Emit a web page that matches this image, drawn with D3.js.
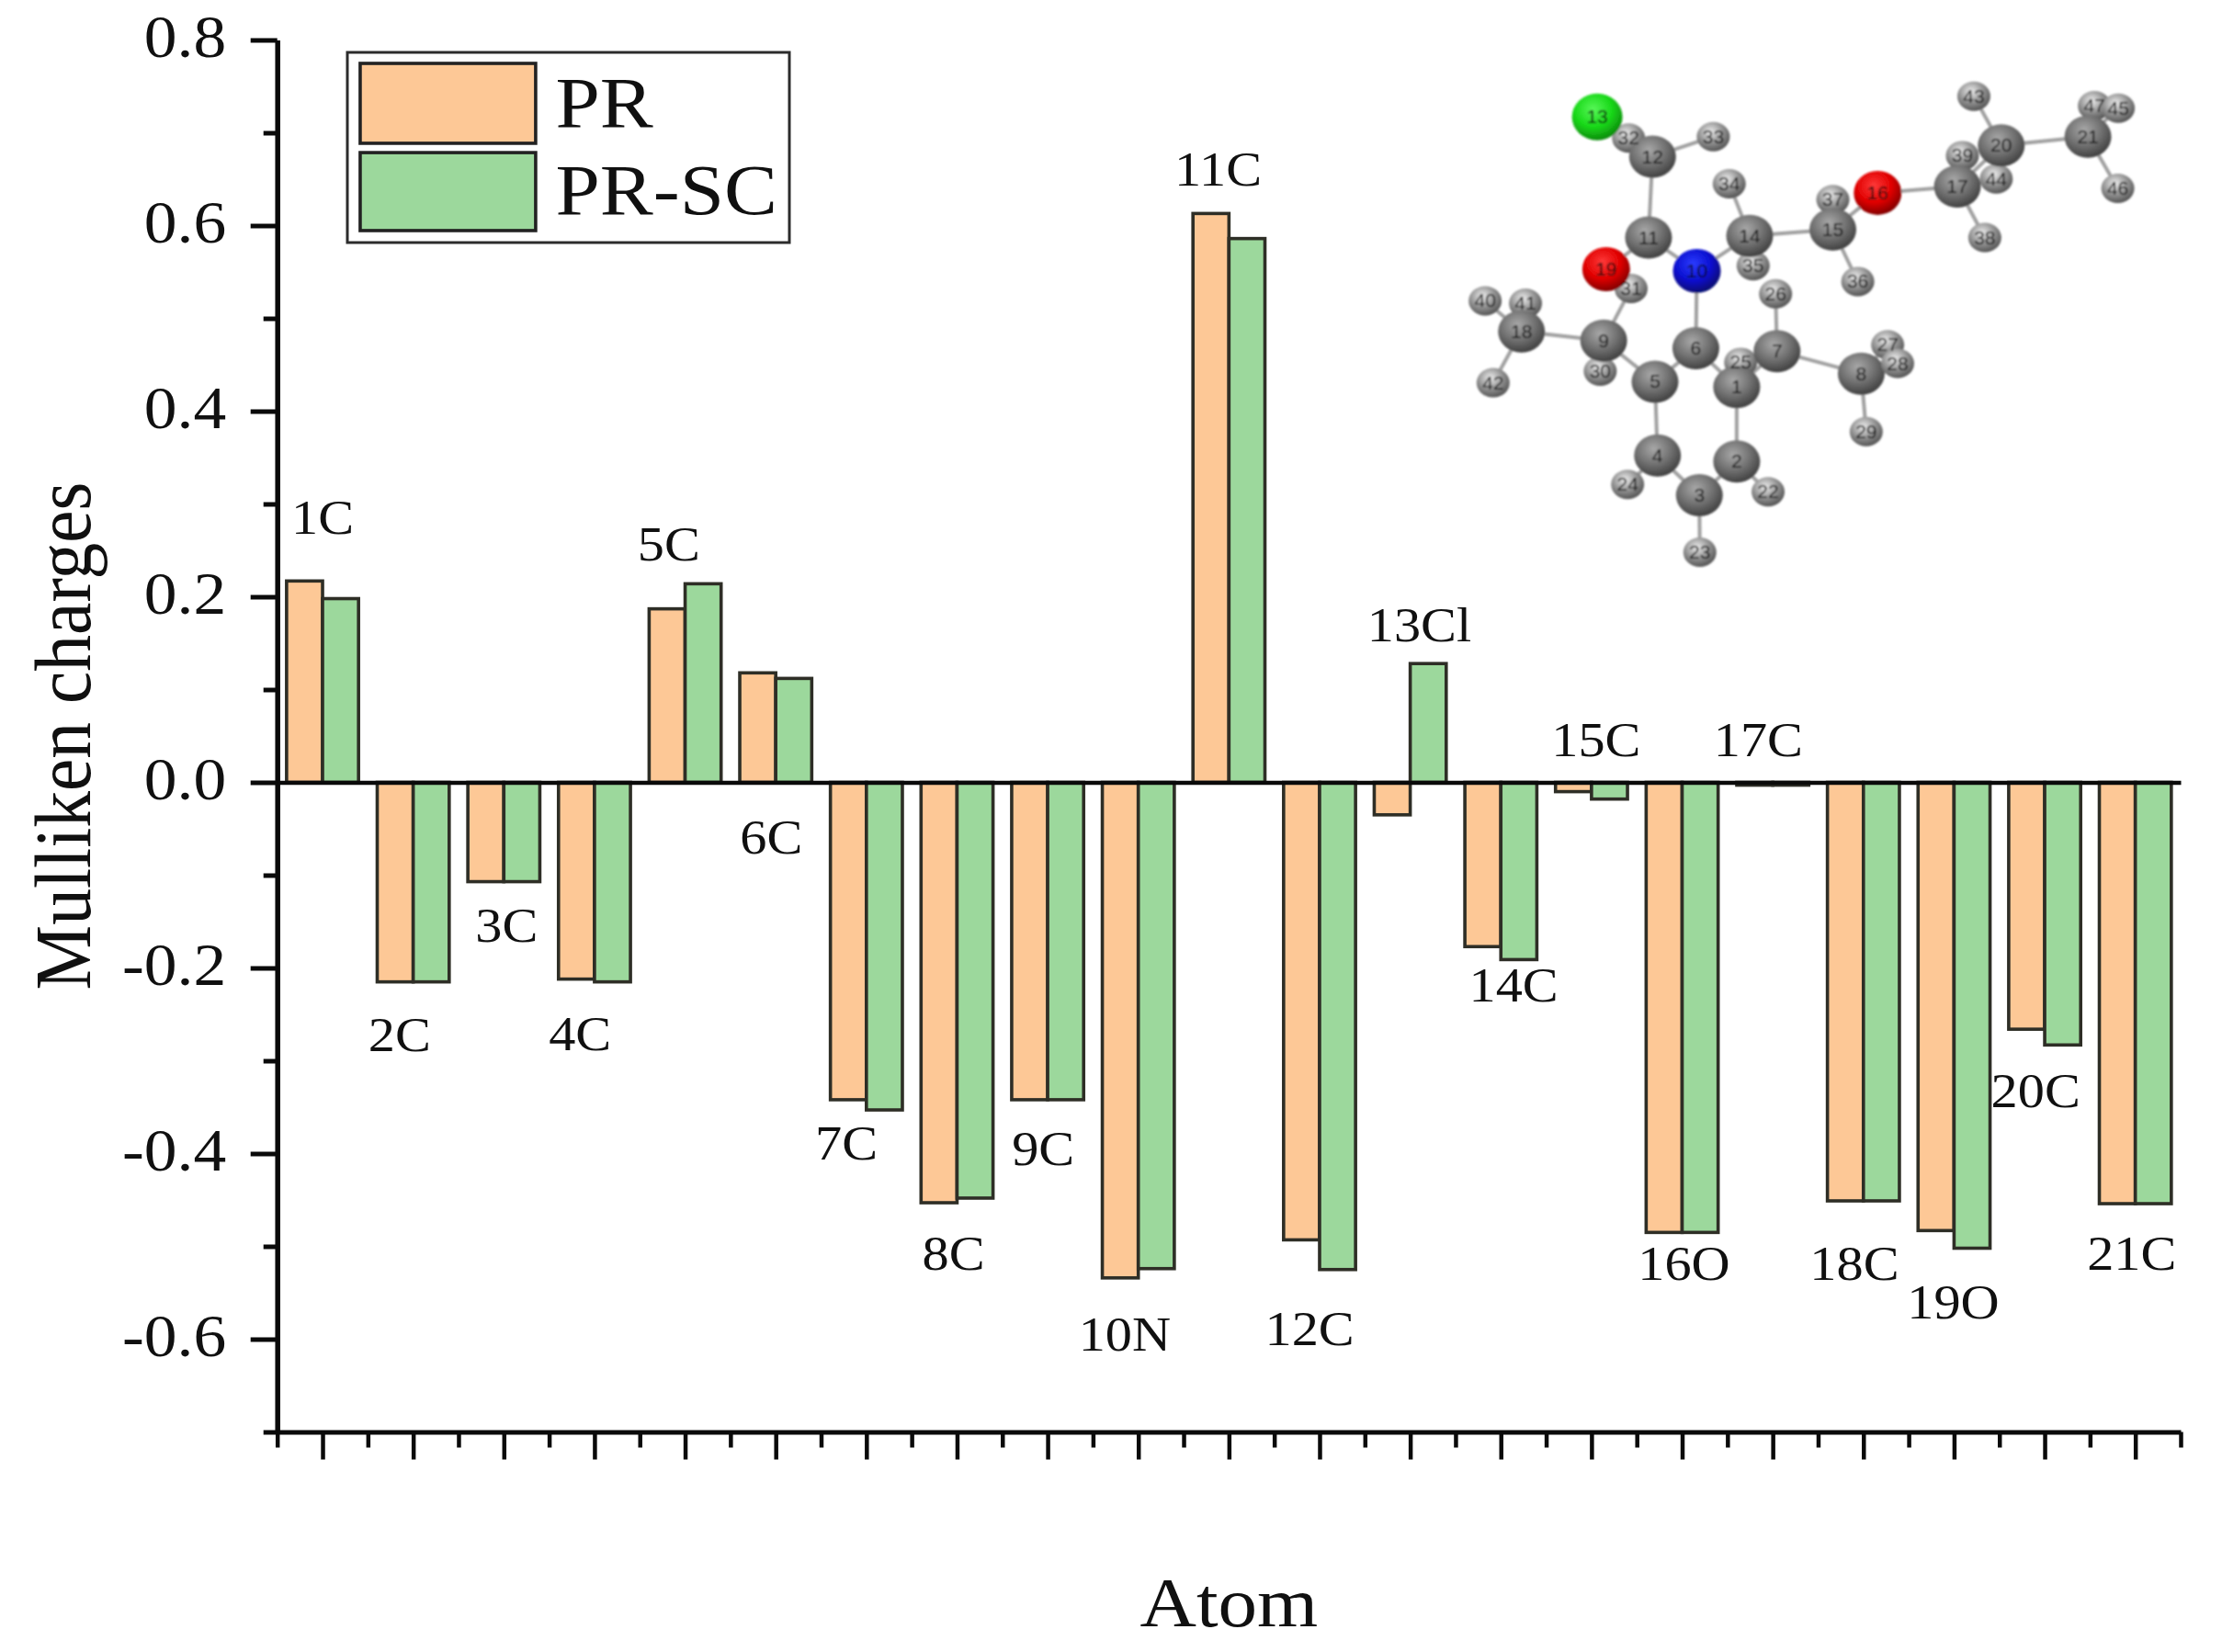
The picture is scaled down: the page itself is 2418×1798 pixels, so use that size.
<!DOCTYPE html>
<html>
<head>
<meta charset="utf-8">
<script src="https://cdn.jsdelivr.net/npm/d3@7"></script>
<style>
html,body{margin:0;padding:0;background:#fff;}
svg{display:block;filter:blur(0.7px);}
text{font-family:"Liberation Serif",serif;fill:#101010;}
</style>
</head>
<body>
<svg id="chart" width="2418" height="1798"></svg>
<script>
// ---------- chart data ----------
const atoms = ["1C","2C","3C","4C","5C","6C","7C","8C","9C","10N","11C","12C","13Cl","14C","15C","16O","17C","18C","19O","20C","21C"];
const chargesPR = [0.217,-0.215,-0.107,-0.212,0.187,0.118,-0.342,-0.453,-0.342,-0.534,0.613,-0.493,-0.035,-0.177,-0.010,-0.485,-0.003,-0.451,-0.483,-0.266,-0.454];
const chargesPRSC = [0.198,-0.215,-0.107,-0.215,0.214,0.112,-0.353,-0.448,-0.342,-0.524,0.586,-0.525,0.128,-0.191,-0.018,-0.485,-0.003,-0.451,-0.502,-0.283,-0.454];
// atom labels sit by hand next to the bars, given in axis units
const labelAtomPos = [1.00,1.85,3.03,3.84,4.82,5.95,6.78,7.96,8.95,9.85,10.88,11.89,13.10,14.14,15.05,16.02,16.84,17.90,18.99,19.90,20.96];
const labelCharge = [0.268,-0.290,-0.172,-0.289,0.239,-0.077,-0.406,-0.525,-0.412,-0.612,0.643,-0.606,0.152,-0.236,0.028,-0.536,0.028,-0.536,-0.578,-0.350,-0.525];
const yMajor = [-0.6,-0.4,-0.2,0,0.2,0.4,0.6,0.8];
const yMinor = [-0.7,-0.5,-0.3,-0.1,0.1,0.3,0.5,0.7];
const seriesNames = ["PR","PR-SC"];
const seriesColors = ["#fdc896","#9cd89c"];
const xTitle = "Atom";
const yTitle = "Mulliken charges";

// ---------- molecule inset data (picture units) ----------
const molId = [27,25,47,39,44,37,35,30,41,40,32,31,13,12,33,34,11,14,15,16,17,20,43,21,45,46,38,36,19,10,26,42,18,9,6,7,5,1,8,28,29,4,2,24,22,3,23];
const molEl = ["H","H","H","H","H","H","H","H","H","H","H","H","Cl","C","H","H","C","C","C","O","C","C","H","C","H","H","H","H","O","N","H","H","C","C","C","C","C","C","C","H","H","C","C","H","H","C","H"];
const molX = [930,635,1345,1080,1148,820,660,353,203,122,410,415,347,458,580,612,450,653,820,910,1070,1158,1103,1332,1393,1392,1125,870,365,547,705,138,195,360,545,708,463,627,877,950,887,468,627,408,690,552,553];
const molY = [850,900,170,312,378,437,625,925,732,725,262,690,202,315,258,392,545,540,522,418,400,283,143,258,177,405,545,670,635,640,705,958,812,838,860,868,955,970,932,903,1097,1165,1182,1247,1268,1278,1440];
const molBondA = [13,32,33,12,11,11,10,14,14,14,15,15,15,16,17,17,17,20,20,20,21,21,21,10,6,6,5,9,9,9,18,18,18,1,7,7,7,8,8,8,1,2,3,4,2,3,4];
const molBondB = [12,12,12,11,19,10,14,34,35,15,37,36,16,17,39,38,20,43,44,21,47,45,46,6,5,1,9,31,30,18,40,41,42,7,26,25,8,27,28,29,2,3,4,5,22,23,24];

// ---------- scales ----------
const svg = d3.select("#chart");
const x = d3.scaleLinear().domain([0.5,21.5]).range([301.7,2373]);
const y = d3.scaleLinear().domain([-0.7,0.8]).range([1558.5,43.5]);
const barFrac = 0.397;

// ---------- bars ----------
const series = [chargesPR, chargesPRSC];
series.forEach((vals,s)=>{
  svg.append("g").selectAll("rect").data(vals).join("rect")
    .attr("x",(d,i)=> x(i+1 + (s===0?-barFrac:0)))
    .attr("width", x(1+barFrac)-x(1))
    .attr("y", d=> y(Math.max(0,d)))
    .attr("height", d=> Math.abs(y(d)-y(0)))
    .attr("fill", seriesColors[s])
    .attr("stroke","#2e2e26")
    .attr("stroke-width",3.6);
});

// ---------- axes ----------
const axisInk = g=>{ g.selectAll("path,line").attr("stroke","#0a0a0a"); };
// bottom axis
const gx = svg.append("g").attr("transform",`translate(0,${y(-0.7)})`);
gx.call(d3.axisBottom(x).tickValues(d3.range(1,22)).tickSize(30).tickSizeOuter(0).tickFormat(""));
gx.call(axisInk); gx.selectAll("line").attr("stroke-width",4.5); gx.select("path").attr("stroke-width",5);
const gxm = svg.append("g").attr("transform",`translate(0,${y(-0.7)})`);
gxm.call(d3.axisBottom(x).tickValues(d3.range(0.5,22,1)).tickSize(17).tickSizeOuter(0).tickFormat(""));
gxm.call(axisInk); gxm.select("path").remove(); gxm.selectAll("line").attr("stroke-width",4.5);
// left axis
const gy = svg.append("g").attr("transform",`translate(${x(0.5)},0)`);
gy.call(d3.axisLeft(y).tickValues(yMajor).tickSize(29).tickSizeOuter(0).tickFormat(d=>d.toFixed(1)));
gy.call(axisInk); gy.select("path").attr("stroke-width",5.5); gy.selectAll("line").attr("stroke-width",5);
gy.selectAll("text")
  .attr("x",0).attr("dy","0.27em")
  .attr("text-anchor","end")
  .attr("transform","translate(-55.5,0) scale(1.1,1)")
  .style("font-family",'"Liberation Serif",serif')
  .style("font-size","65px");
const gym = svg.append("g").attr("transform",`translate(${x(0.5)},0)`);
gym.call(d3.axisLeft(y).tickValues(yMinor).tickSize(15).tickSizeOuter(0).tickFormat(""));
gym.call(axisInk); gym.select("path").remove(); gym.selectAll("line").attr("stroke-width",5);
// zero line
const gz = svg.append("g").attr("transform",`translate(0,${y(0)})`);
gz.call(d3.axisBottom(x).tickValues([]).tickSizeOuter(0));
gz.call(axisInk); gz.select("path").attr("stroke-width",4.5);

// ---------- atom labels ----------
svg.append("g").selectAll("text").data(atoms).join("text")
  .attr("transform",(d,i)=>`translate(${x(labelAtomPos[i])},${y(labelCharge[i])}) scale(1.1,1)`)
  .attr("text-anchor","middle")
  .attr("font-size",53)
  .text(d=>d);

// ---------- axis titles ----------
svg.append("text")
  .attr("transform",`translate(${x(11)},1770) scale(1.12,1)`)
  .attr("text-anchor","middle").attr("font-size",76).text(xTitle);
svg.append("text")
  .attr("transform",`translate(98,${y(0.05)}) rotate(-90) scale(0.925,1)`)
  .attr("text-anchor","middle").attr("font-size",86).text(yTitle);

// ---------- legend ----------
const legendX = d3.scaleLinear().domain([0,1]).range([378,859]);
const legendY = d3.scaleLinear().domain([0,1]).range([57,264]);
svg.append("rect").attr("x",legendX(0)).attr("y",legendY(0))
  .attr("width",legendX(1)-legendX(0)).attr("height",legendY(1)-legendY(0))
  .attr("fill","#fff").attr("stroke","#2c2c2c").attr("stroke-width",3);
const legendRows = [{top:0.058,bot:0.478,base:0.391},{top:0.527,bot:0.937,base:0.850}];
legendRows.forEach((r,i)=>{
  svg.append("rect").attr("x",legendX(0.029)).attr("y",legendY(r.top))
    .attr("width",legendX(0.426)-legendX(0.029)).attr("height",legendY(r.bot)-legendY(r.top))
    .attr("fill",seriesColors[i]).attr("stroke","#222").attr("stroke-width",3.6);
  svg.append("text")
    .attr("transform",`translate(${legendX(0.471)},${legendY(r.base)}) scale(1.1,1)`)
    .attr("font-size",79).text(seriesNames[i]);
});

// ---------- molecule inset ----------
const mx = d3.scaleLinear().domain([0,1568]).range([1550,2400]);
const my = d3.scaleLinear().domain([0,1568]).range([50,650]);
const defs = svg.append("defs");
const blur = defs.append("filter").attr("id","soft").attr("x","-5%").attr("y","-5%").attr("width","110%").attr("height","110%");
blur.append("feGaussianBlur").attr("stdDeviation",1.1);
const elemStops = {
  C:["#a8a8a8","#707070","#3e3e3e"],
  H:["#efefef","#929292","#505050"],
  O:["#ff3a3a","#e00000","#7c0000"],
  N:["#2c3cff","#0a10d0","#06066a"],
  Cl:["#58f858","#18d818","#0c860c"]
};
Object.entries(elemStops).forEach(([k,c])=>{
  const g = defs.append("radialGradient").attr("id","el"+k).attr("cx","0.42").attr("cy","0.34").attr("r","0.68");
  g.append("stop").attr("offset","0%").attr("stop-color",c[0]);
  g.append("stop").attr("offset","55%").attr("stop-color",c[1]);
  g.append("stop").attr("offset","100%").attr("stop-color",c[2]);
});
const elemRx = {C:25.5,H:18,O:26,N:26,Cl:27.5};
const elemRy = {C:23,H:16,O:24,N:24,Cl:25.5};
const mol = svg.append("g").attr("filter","url(#soft)");
const idx = id => molId.indexOf(id);
mol.selectAll("line").data(molBondA).join("line")
  .attr("x1",d=>mx(molX[idx(d)])).attr("y1",d=>my(molY[idx(d)]))
  .attr("x2",(d,i)=>mx(molX[idx(molBondB[i])])).attr("y2",(d,i)=>my(molY[idx(molBondB[i])]))
  .attr("stroke","#a0a0a0").attr("stroke-width",4);
mol.selectAll("ellipse").data(molId).join("ellipse")
  .attr("cx",(d,i)=>mx(molX[i])).attr("cy",(d,i)=>my(molY[i]))
  .attr("rx",(d,i)=>elemRx[molEl[i]]).attr("ry",(d,i)=>elemRy[molEl[i]])
  .attr("fill",(d,i)=>`url(#el${molEl[i]})`);
mol.selectAll("text").data(molId).join("text")
  .attr("x",(d,i)=>mx(molX[i])).attr("y",(d,i)=>my(molY[i])+7)
  .attr("text-anchor","middle")
  .attr("font-size",21)
  .style("font-family",'"Liberation Sans",sans-serif')
  .style("fill","#0c0c0c")
  .text(d=>d);
</script>
</body>
</html>
